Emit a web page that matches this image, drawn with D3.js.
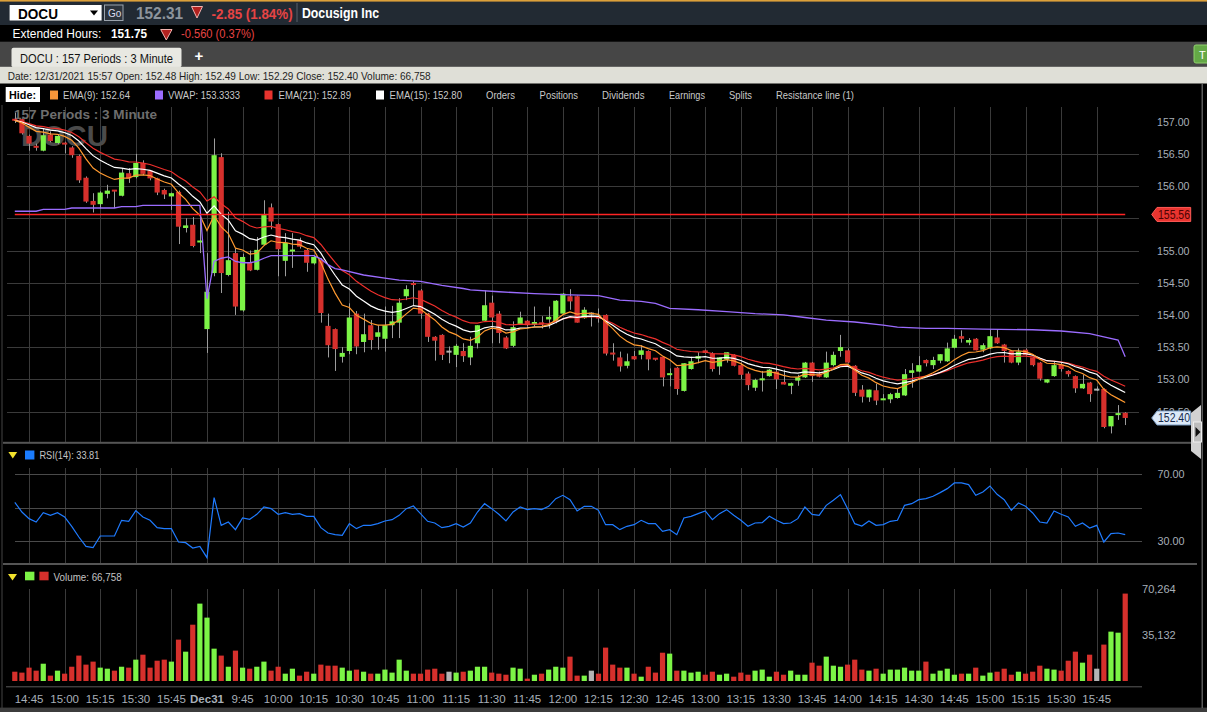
<!DOCTYPE html>
<html>
<head>
<meta charset="utf-8">
<script src="https://cdn.jsdelivr.net/npm/d3@7"></script>
<style>
html, body { margin: 0; padding: 0; background: #000; overflow: hidden; }
svg { display: block; font-family: "Liberation Sans", Arial, sans-serif; }
</style>
</head>
<body>
<svg width="1207" height="712"></svg>
<script>
// 3 minute bars, two sessions
var sessions = [{ day: '12/30', start: '14:39', bars: 27 }, { day: '12/31', start: '9:30', bars: 130 }];

var opens = [157.03,157.04,156.78,156.61,156.55,156.80,156.67,156.66,156.60,156.47,
  156.13,155.77,155.72,155.88,155.93,155.85,156.20,156.14,156.36,156.24,
  156.12,155.94,155.84,155.91,155.35,155.40,155.13,
  153.78,154.65,156.45,154.62,154.96,154.07,154.82,154.70,155.09,155.67,
  155.41,154.84,154.98,155.16,155.01,154.80,154.86,153.83,153.78,153.35,
  153.44,154.02,153.58,153.84,153.66,153.63,153.84,153.88,154.29,154.48,
  154.38,154.02,153.66,153.69,153.43,153.38,153.44,153.34,153.56,153.91,
  154.19,154.02,153.65,153.52,153.86,153.91,153.85,153.87,153.93,153.89,
  154.02,154.29,154.29,153.95,154.02,153.96,154.00,153.40,153.34,153.21,
  153.36,153.38,153.44,153.32,153.35,153.07,153.18,152.82,153.16,153.32,
  153.45,153.40,153.20,153.31,153.38,153.22,153.09,152.87,152.99,153.05,
  153.12,152.96,152.90,152.98,153.03,153.26,153.09,153.03,153.22,153.44,
  153.45,153.21,152.84,152.72,152.83,152.68,152.69,152.71,152.75,153.10,
  153.12,153.30,153.22,153.29,153.28,153.49,153.67,153.57,153.63,153.46,
  153.48,153.65,153.54,153.44,153.26,153.46,153.34,153.26,152.95,153.05,
  153.23,153.13,153.05,152.86,152.95,152.84,152.85,152.27,152.44,152.48];

var highs = [157.14,157.05,156.80,156.66,156.90,156.85,156.80,156.69,156.62,156.49,
  156.15,155.89,155.92,156.02,155.94,156.28,156.28,156.50,156.40,156.25,
  156.13,155.96,155.90,155.93,155.50,155.52,155.55,
  154.96,156.74,156.51,155.60,155.03,154.95,155.00,155.21,155.78,155.73,
  155.42,155.27,155.27,155.20,155.03,154.93,154.88,154.02,153.79,153.50,
  154.18,154.06,154.02,153.92,153.84,154.13,154.14,154.26,154.46,154.52,
  154.40,154.03,153.67,153.70,153.51,153.55,153.56,153.66,153.84,154.38,
  154.30,154.06,153.67,153.90,154.05,153.92,154.13,153.98,154.13,154.23,
  154.34,154.40,154.30,154.12,154.04,154.10,154.01,153.56,153.43,153.40,
  153.44,153.53,153.45,153.33,153.36,153.17,153.19,153.25,153.35,153.42,
  153.46,153.42,153.34,153.42,153.39,153.26,153.12,153.01,153.13,153.16,
  153.20,153.15,152.95,153.07,153.27,153.27,153.12,153.43,153.43,153.69,
  153.48,153.22,152.91,152.84,152.93,152.77,152.79,152.86,153.16,153.25,
  153.36,153.31,153.35,153.39,153.57,153.69,153.76,153.64,153.64,153.56,
  153.78,153.78,153.55,153.45,153.48,153.48,153.35,153.27,153.00,153.28,
  153.27,153.14,153.06,153.07,152.96,152.89,152.86,152.43,152.60,152.49];

var lows = [156.98,156.80,156.55,156.55,156.54,156.68,156.65,156.51,156.44,156.05,
  155.74,155.59,155.65,155.81,155.66,155.84,156.05,156.12,156.17,156.09,
  155.86,155.80,155.63,155.10,155.28,155.05,154.96,
  153.41,154.60,154.34,154.60,154.00,154.05,154.68,154.69,155.08,155.33,
  154.60,154.60,154.73,155.03,154.67,154.78,153.88,153.34,153.13,153.26,
  153.39,153.39,153.42,153.46,153.46,153.43,153.64,153.64,154.23,154.15,
  153.94,153.58,153.29,153.30,153.25,153.19,153.27,153.22,153.48,153.90,
  153.56,153.56,153.47,153.50,153.85,153.82,153.82,153.79,153.79,153.87,
  154.02,154.08,153.88,153.94,153.82,153.88,153.37,153.29,153.12,153.17,
  153.30,153.31,153.14,153.29,152.89,152.89,152.76,152.81,153.15,153.25,
  153.40,153.12,153.07,153.26,153.20,153.00,152.83,152.82,152.81,153.04,
  152.85,152.92,152.77,152.90,153.02,152.96,153.03,153.02,153.20,153.35,
  153.25,152.74,152.64,152.65,152.60,152.68,152.63,152.70,152.74,152.87,
  153.11,153.20,153.16,153.25,153.27,153.48,153.57,153.53,153.45,153.42,
  153.47,153.55,153.26,153.25,153.22,153.37,153.20,152.98,152.94,153.04,
  153.12,153.04,152.79,152.85,152.65,152.82,152.24,152.16,152.37,152.29];

var closes = [157.02,156.82,156.66,156.59,156.79,156.70,156.78,156.64,156.48,156.09,
  155.76,155.71,155.90,155.93,155.92,156.21,156.12,156.36,156.19,156.12,
  155.90,155.87,155.89,155.37,155.39,155.07,155.14,
  154.36,156.48,154.65,154.85,154.13,154.90,154.69,155.01,155.55,155.45,
  155.02,155.12,155.00,155.06,154.81,154.90,154.03,153.53,153.47,153.41,
  153.96,153.51,153.70,153.61,153.73,153.84,153.90,154.19,154.40,154.46,
  154.02,153.66,153.60,153.38,153.43,153.52,153.36,153.52,153.84,154.15,
  153.96,153.72,153.48,153.81,153.96,153.84,153.89,153.84,153.97,154.22,
  154.33,154.21,153.88,154.08,154.02,153.95,153.40,153.39,153.20,153.28,
  153.31,153.45,153.31,153.31,153.03,153.08,152.85,153.25,153.28,153.36,
  153.41,153.16,153.34,153.42,153.21,153.07,152.91,152.99,153.00,153.15,
  153.00,152.92,152.94,153.03,153.26,153.05,153.04,153.26,153.38,153.50,
  153.26,152.79,152.73,152.84,152.67,152.69,152.77,152.79,153.08,153.14,
  153.22,153.25,153.30,153.39,153.48,153.63,153.63,153.61,153.45,153.53,
  153.67,153.56,153.44,153.26,153.43,153.38,153.22,153.01,153.00,153.22,
  153.16,153.08,152.86,152.93,152.77,152.84,152.26,152.43,152.46,152.40];

var volumes = [7100,6400,10200,7900,13200,4100,7900,5600,10900,19400,
  12500,14800,10200,9400,7900,10900,10200,16300,20100,10200,
  15500,16300,14800,31600,22400,43000,59100,
  48400,24700,19400,10900,23200,10200,9400,10900,14800,7900,
  10900,5600,9400,4100,7100,5600,12500,11700,11700,10200,
  7900,8700,7100,5600,5600,8700,6400,16300,7900,5600,
  5600,8700,9400,5600,7100,6400,7100,7900,10900,10900,
  6400,5600,4800,10200,9400,1800,4800,5600,8700,10900,
  10200,18600,4100,4100,7900,5600,25500,12500,10200,10200,
  5600,3300,10900,6400,21600,20900,7900,7900,6400,7100,
  4800,7100,4800,5600,3300,6400,4800,7900,8700,3300,
  7100,4800,7900,4800,4800,14000,11700,18600,11700,10900,
  12500,16300,8700,7900,9400,5600,8700,8700,10200,7900,
  7900,14800,5600,7900,9400,4800,5600,5600,10200,4100,
  6400,7100,9400,4800,7100,5600,7100,11700,9400,8700,
  7900,15500,22400,14000,20100,9400,27800,37700,36900,66758];

var rsi = [53.2,47.4,43.4,41.4,47,45.4,47,44.4,38.8,32.4,
  26.8,26,33,33,33,42.4,41.8,48.2,44.4,42.4,
  38,37.4,37.4,29.4,29,25.8,26.8,
  20,56,39.4,41.4,36.8,43.8,43,46,50.4,49.4,
  46,47,46,46.4,44.8,44.8,38,34.8,33.8,33.4,
  40.4,37.4,39.4,39.4,40.4,42,42.8,45.4,49.4,51,
  46.4,41.8,40.8,38,38.8,40.4,38.4,40.8,47.4,52.4,
  49.4,46,42,47.4,50.4,48.8,49.4,48.8,50.8,55.4,
  57.4,54.8,48,50.8,50.8,48.4,39.8,39.8,36.8,38.8,
  39.8,42.4,40.4,40.4,35.8,36.8,33.8,43.8,44.8,46.4,
  48,42.8,46.4,48.8,45.4,42.4,38.8,40.8,41,44.8,
  42.4,40.4,40.8,43.4,50.4,46,45.4,51.4,54.4,57.8,
  49.4,40.4,39,42,39.4,39.8,41.8,42.4,51.4,52.4,
  54.8,55.4,56.8,59,61.4,64.8,64.8,63.8,57.4,59.4,
  63,58,54.8,48.4,52.8,50.8,46.8,41.4,40.8,48,
  46,44.4,38.8,40.8,37.8,39.4,29.4,34.4,34.8,33.81];

// VWAP read at bar indices
var vwapIdx = [0,3,4,7,8,14,15,17,18,26,27,28,29,30,31,32,33,34,35,36,42,43,44,45,46,49,52,54,57,60,63,64,68,73,78,82,85,88,90,92,96,100,104,108,111,114,118,122,124,128,131,136,143,147,151,153,155,156];
var vwapVal = [155.61,155.61,155.64,155.64,155.66,155.66,155.68,155.68,155.70,155.70,154.25,154.83,154.88,154.90,154.83,154.81,154.81,154.83,154.88,154.92,154.92,154.87,154.78,154.72,154.70,154.62,154.57,154.54,154.52,154.46,154.41,154.39,154.36,154.33,154.31,154.30,154.23,154.21,154.18,154.10,154.08,154.05,154.02,154.00,153.96,153.92,153.89,153.84,153.81,153.79,153.79,153.78,153.77,153.75,153.71,153.66,153.61,153.35];

var tickLabels = ['14:45','15:00','15:15','15:30','15:45','Dec31','9:45','10:00','10:15','10:30','10:45',
  '11:00','11:15','11:30','11:45','12:00','12:15','12:30','12:45','13:00','13:15','13:30','13:45',
  '14:00','14:15','14:30','14:45','15:00','15:15','15:30','15:45'];
// 155.50 sits under the resistance tag, so it is not labelled
var priceTicks = [157, 156.5, 156, 155, 154.5, 154, 153.5, 153, 152.5];
var priceGrid = [156.5, 156, 155.5, 155, 154.5, 154, 153.5, 153, 152.5];
var rsiTicks = [70, 30];
var rsiGrid = [70, 50, 30];
var volTicks = [70264, 35132];
var resistance = 155.56;
var lastClose = 152.40;

var GREEN = '#7cf446', RED = '#d6302c', GREY = '#b4b4b4', GRID = '#3a3a3a', AXIS = '#a7afb8';

var svg = d3.select('svg');

// times
var times = [];
sessions.forEach(function (s) {
    var hm = s.start.split(':');
    var m0 = +hm[0] * 60 + +hm[1];
    for (var k = 0; k < s.bars; k++) {
        var m = m0 + 3 * k;
        times.push({ key: s.day + ' ' + Math.floor(m / 60) + ':' + d3.format('02')(m % 60), min: m });
    }
});
var keys = times.map(d => d.key);
var tickIdx = times.map((t, i) => t.min % 15 === 0 ? i : -1).filter(i => i >= 0);

var x = d3.scaleBand().domain(keys).range([11.24, 1128.77]).paddingInner(0.27).paddingOuter(0.135);
var cx = i => x(keys[i]) + x.bandwidth() / 2;
var y = d3.scaleLinear().domain([152.03, 157.25]).range([441.8, 105.6]);
var yr = d3.scaleLinear().domain([30, 70]).range([541, 474.3]);
var yv = d3.scaleLinear().domain([0, 70264]).range([681, 589]);

var bars = keys.map((k, i) => ({ i: i, o: opens[i], h: highs[i], l: lows[i], c: closes[i], v: volumes[i] }));
var colorOf = d => d.c > d.o ? GREEN : d.c < d.o ? RED : GREY;

function text(g, px, py, s, o) {
    o = o || {};
    var t = g.append('text').attr('x', px).attr('y', py).text(s)
        .attr('font-size', o.size || 11)
        .attr('fill', o.fill || '#ccc')
        .attr('font-weight', o.bold ? 'bold' : null)
        .attr('text-anchor', o.anchor || null);
    if (o.len) t.attr('textLength', o.len).attr('lengthAdjust', 'spacingAndGlyphs');
    return t;
}

function ema(values, n) {
    var k = 2 / (n + 1), prev = values[0];
    return values.map((v, i) => (prev = i === 0 ? v : v * k + prev * (1 - k)));
}

// ---------- header ----------
var hd = svg.append('g');
hd.append('rect').attr('width', 1207).attr('height', 712).attr('fill', '#000');
hd.append('rect').attr('width', 1207).attr('height', 25).attr('fill', '#222a33');
hd.append('rect').attr('width', 1207).attr('height', 1.6).attr('fill', '#dca03a');
hd.append('rect').attr('x', 9.6).attr('y', 5).attr('width', 92).attr('height', 15.5).attr('fill', '#fff');
text(hd, 18, 18.5, 'DOCU', { size: 14, bold: true, fill: '#000', len: 40 });
hd.append('path').attr('d', 'M90,10.5 L98,10.5 L94,15.5 Z').attr('fill', '#000');
hd.append('rect').attr('x', 104.5).attr('y', 5).attr('width', 18.5).attr('height', 15.5)
    .attr('fill', '#2c333c').attr('stroke', '#9aa3ad');
text(hd, 108, 16.5, 'Go', { size: 10, fill: '#dde' });
text(hd, 136, 19, '152.31', { size: 16, bold: true, fill: '#8d949c', len: 47 });
hd.append('path').attr('d', 'M191.5,6.5 L202.5,6.5 L197,18 Z').attr('fill', '#b3221f').attr('stroke', '#f2b4b0');
text(hd, 211.6, 18.5, '-2.85 (1.84%)', { size: 14, bold: true, fill: '#e64444', len: 81 });
hd.append('rect').attr('x', 296.5).attr('y', 3).attr('width', 1).attr('height', 19).attr('fill', '#59616b');
text(hd, 302, 17.5, 'Docusign Inc', { size: 14, bold: true, fill: '#fff', len: 77 });

text(hd, 12.6, 38.3, 'Extended Hours:', { size: 12.5, fill: '#fff', len: 88.8 });
text(hd, 111, 38.3, '151.75', { size: 12.5, bold: true, fill: '#fff', len: 36 });
hd.append('path').attr('d', 'M160.7,29.5 L172,29.5 L166.3,40 Z').attr('fill', '#b3221f').attr('stroke', '#f2b4b0');
text(hd, 181, 38.3, '-0.560 (0.37%)', { size: 12.5, fill: '#e64444', len: 73.5 });

hd.append('rect').attr('y', 41.7).attr('width', 1207).attr('height', 25).attr('fill', '#464646');
hd.append('rect').attr('x', 11.5).attr('y', 47.7).attr('width', 170).attr('height', 19.5).attr('rx', 2).attr('fill', '#e8e8e2');
text(hd, 20, 63, 'DOCU : 157  Periods : 3 Minute', { size: 12.5, fill: '#111', len: 153 });
text(hd, 199, 61, '+', { size: 15, bold: true, fill: '#fff', anchor: 'middle' });
hd.append('rect').attr('x', 1194).attr('y', 45).attr('width', 15).attr('height', 18).attr('rx', 2)
    .attr('fill', '#64a846').attr('stroke', '#8fcf6c');
text(hd, 1199, 58.5, 'T', { size: 11, fill: '#fff' });

hd.append('rect').attr('y', 66.7).attr('width', 1207).attr('height', 16.8).attr('fill', '#dfdfd7');
text(hd, 7.7, 80, 'Date: 12/31/2021 15:57  Open: 152.48  High: 152.49  Low: 152.29  Close: 152.40  Volume: 66,758',
    { size: 11, fill: '#1e1e1e', len: 423 });

hd.append('rect').attr('x', 5.7).attr('y', 87).attr('width', 34.3).attr('height', 15).attr('fill', '#fff');
text(hd, 9, 99, 'Hide:', { size: 11.5, bold: true, fill: '#000', len: 27 });
var legend = [
    { c: '#f7963a', t: 'EMA(9): 152.64', sx: 50, tx: 63, w: 67 },
    { c: '#9b6cff', t: 'VWAP: 153.3333', sx: 155, tx: 168, w: 72 },
    { c: '#e8332e', t: 'EMA(21): 152.89', sx: 264.5, tx: 278.6, w: 72.4 },
    { c: '#ffffff', t: 'EMA(15): 152.80', sx: 376, tx: 389.6, w: 72.4 }
];
legend.forEach(function (d) {
    hd.append('rect').attr('x', d.sx).attr('y', 90.5).attr('width', 8).attr('height', 9).attr('fill', d.c);
    text(hd, d.tx, 99, d.t, { size: 11.5, fill: '#c9c9c9', len: d.w });
});
[['Orders', 486, 29], ['Positions', 539.6, 38.4], ['Dividends', 602, 42.5], ['Earnings', 669, 36],
 ['Splits', 729, 23], ['Resistance line (1)', 776, 78]].forEach(function (d) {
    text(hd, d[1], 99, d[0], { size: 11.5, fill: '#c9c9c9', len: d[2] });
});

// ---------- grids ----------
var grid = svg.append('g').attr('stroke', GRID).attr('stroke-width', 1).attr('shape-rendering', 'crispEdges');
tickIdx.forEach(function (i) {
    var gx = Math.round(cx(i)) + 0.5;
    grid.append('line').attr('x1', gx).attr('x2', gx).attr('y1', 107).attr('y2', 442);
    grid.append('line').attr('x1', gx).attr('x2', gx).attr('y1', 468).attr('y2', 563);
    grid.append('line').attr('x1', gx).attr('x2', gx).attr('y1', 589).attr('y2', 681);
});
priceGrid.forEach(function (p) {
    var gy = Math.round(y(p)) + 0.5;
    grid.append('line').attr('x1', 7).attr('x2', 1139).attr('y1', gy).attr('y2', gy);
});
rsiGrid.forEach(function (r) {
    var gy = Math.round(yr(r)) + 0.5;
    grid.append('line').attr('x1', 14.6).attr('x2', 1142).attr('y1', gy).attr('y2', gy).attr('stroke', '#4a4a4a');
});

// panel borders
var bd = svg.append('g').attr('fill', '#555');
bd.append('rect').attr('x', 3).attr('y', 441.8).attr('width', 1194).attr('height', 2);
bd.append('rect').attr('x', 3).attr('y', 563).attr('width', 1194).attr('height', 2);
bd.append('rect').attr('x', 1.5).attr('y', 105).attr('width', 1).attr('height', 603).attr('fill', '#444');
bd.append('rect').attr('x', 6).attr('y', 686.3).attr('width', 1136).attr('height', 1).attr('fill', '#5a5a5a');
bd.append('rect').attr('y', 707.6).attr('width', 1207).attr('height', 4.4).attr('fill', '#3c3c3c');

// ---------- main panel ----------
svg.append('clipPath').attr('id', 'mainClip').append('rect').attr('x', 3).attr('y', 105).attr('width', 1137).attr('height', 336.5);
var main = svg.append('g').attr('clip-path', 'url(#mainClip)');

text(main, 14, 118.5, '157  Periods : 3 Minute', { size: 13, bold: true, fill: '#6e6e6e', len: 143 });
text(main, 21, 146, 'DOCU', { size: 30, bold: true, fill: '#4b4b4b', len: 87 });

var candle = main.append('g').selectAll('g').data(bars).enter().append('g');
candle.append('line')
    .attr('x1', d => Math.round(cx(d.i)) + 0.5).attr('x2', d => Math.round(cx(d.i)) + 0.5)
    .attr('y1', d => y(d.h)).attr('y2', d => y(d.l))
    .attr('stroke', '#9c9c9c').attr('stroke-width', 1);
candle.append('rect')
    .attr('x', d => x(keys[d.i]))
    .attr('width', x.bandwidth())
    .attr('y', d => Math.min(y(d.o), y(d.c)) - (Math.abs(y(d.o) - y(d.c)) < 2 ? 1 : 0))
    .attr('height', d => Math.max(2, Math.abs(y(d.o) - y(d.c))))
    .attr('fill', colorOf);

var priceLine = d3.line().x((d, i) => cx(i)).y(d => y(d));
[[21, '#ee2f2c'], [15, '#ffffff'], [9, '#ff9a30']].forEach(function (e) {
    main.append('path').attr('d', priceLine(ema(closes, e[0])))
        .attr('fill', 'none').attr('stroke', e[1]).attr('stroke-width', 1.2);
});
var vwapLine = d3.line().x(d => cx(d[0])).y(d => y(d[1]));
main.append('path').attr('d', vwapLine(d3.zip(vwapIdx, vwapVal)))
    .attr('fill', 'none').attr('stroke', '#9b6cff').attr('stroke-width', 1.3);

main.append('line').attr('x1', cx(0)).attr('x2', cx(keys.length - 1))
    .attr('y1', y(resistance)).attr('y2', y(resistance))
    .attr('stroke', '#ff2424').attr('stroke-width', 1.5);

// price axis
var pax = svg.append('g');
priceTicks.forEach(function (p) {
    text(pax, 1157, y(p) + 4, d3.format('.2f')(p), { size: 11.5, fill: AXIS, len: 32.5 });
});
function tag(py, fill, stroke, label, tfill) {
    var g = svg.append('g');
    g.append('path')
        .attr('d', 'M1151.7,' + py + ' L1157,' + (py - 7) + ' L1190.7,' + (py - 7) + ' L1190.7,' + (py + 7) + ' L1157,' + (py + 7) + ' Z')
        .attr('fill', fill).attr('stroke', stroke);
    text(g, 1158, py + 4.3, label, { size: 12, fill: tfill, len: 32 });
}
tag(y(resistance), '#e8342f', '#ff5a55', d3.format('.2f')(resistance), '#4a0303');
tag(y(lastClose), '#dce9f8', '#7e9fc6', d3.format('.2f')(lastClose), '#17294a');

// right edge and scroll arrow
svg.append('rect').attr('x', 1201.5).attr('y', 84).attr('width', 1.5).attr('height', 624).attr('fill', '#5a5a5a');
svg.append('path').attr('d', 'M1191,413 L1201,405 L1201,459 L1191,451 Z').attr('fill', '#d2d2d2');
svg.append('rect').attr('x', 1193.5).attr('y', 422).attr('width', 8).attr('height', 20).attr('fill', '#bdbdbd').attr('stroke', '#eee');
svg.append('path').attr('d', 'M1195.5,427 L1200.5,432 L1195.5,437 Z').attr('fill', '#111');

// ---------- RSI panel ----------
var rp = svg.append('g');
rp.append('path').attr('d', 'M8.4,452 L17.2,452 L12.8,458.5 Z').attr('fill', '#f2e22c');
rp.append('rect').attr('x', 25).attr('y', 450.5).attr('width', 9.4).attr('height', 9).attr('fill', '#1a7cff');
text(rp, 39.4, 459, 'RSI(14): 33.81', { size: 11, fill: '#c4c4c4', len: 60 });
rp.append('path').attr('d', d3.line().x((d, i) => cx(i)).y(d => yr(d))(rsi))
    .attr('fill', 'none').attr('stroke', '#1f7bff').attr('stroke-width', 1.2);
rsiTicks.forEach(function (r) {
    text(rp, 1157.5, yr(r) + 4, d3.format('.2f')(r), { size: 11.5, fill: AXIS, len: 27 });
});

// ---------- volume panel ----------
var vp = svg.append('g');
vp.append('path').attr('d', 'M8,574 L17,574 L12.5,580.5 Z').attr('fill', '#f2e22c');
vp.append('rect').attr('x', 25).attr('y', 571.7).attr('width', 9.4).attr('height', 8.6).attr('fill', GREEN);
vp.append('rect').attr('x', 39.4).attr('y', 571.7).attr('width', 9.2).attr('height', 8.6).attr('fill', RED);
text(vp, 53.6, 580.5, 'Volume: 66,758', { size: 11, fill: '#c4c4c4', len: 68 });
vp.append('g').selectAll('rect').data(bars).enter().append('rect')
    .attr('x', d => x(keys[d.i]))
    .attr('width', x.bandwidth())
    .attr('y', d => yv(d.v))
    .attr('height', d => yv(0) - yv(d.v))
    .attr('fill', colorOf);
volTicks.forEach(function (v) {
    text(vp, 1142, yv(v) + 4, d3.format(',')(v), { size: 11.5, fill: AXIS, len: 33.7 });
});

// time axis
var tax = svg.append('g');
tickIdx.forEach(function (i, k) {
    var lab = tickLabels[k];
    text(tax, cx(i), 703, lab, { size: 11.5, fill: AXIS, anchor: 'middle', bold: lab === 'Dec31' });
});
</script>
</body>
</html>
